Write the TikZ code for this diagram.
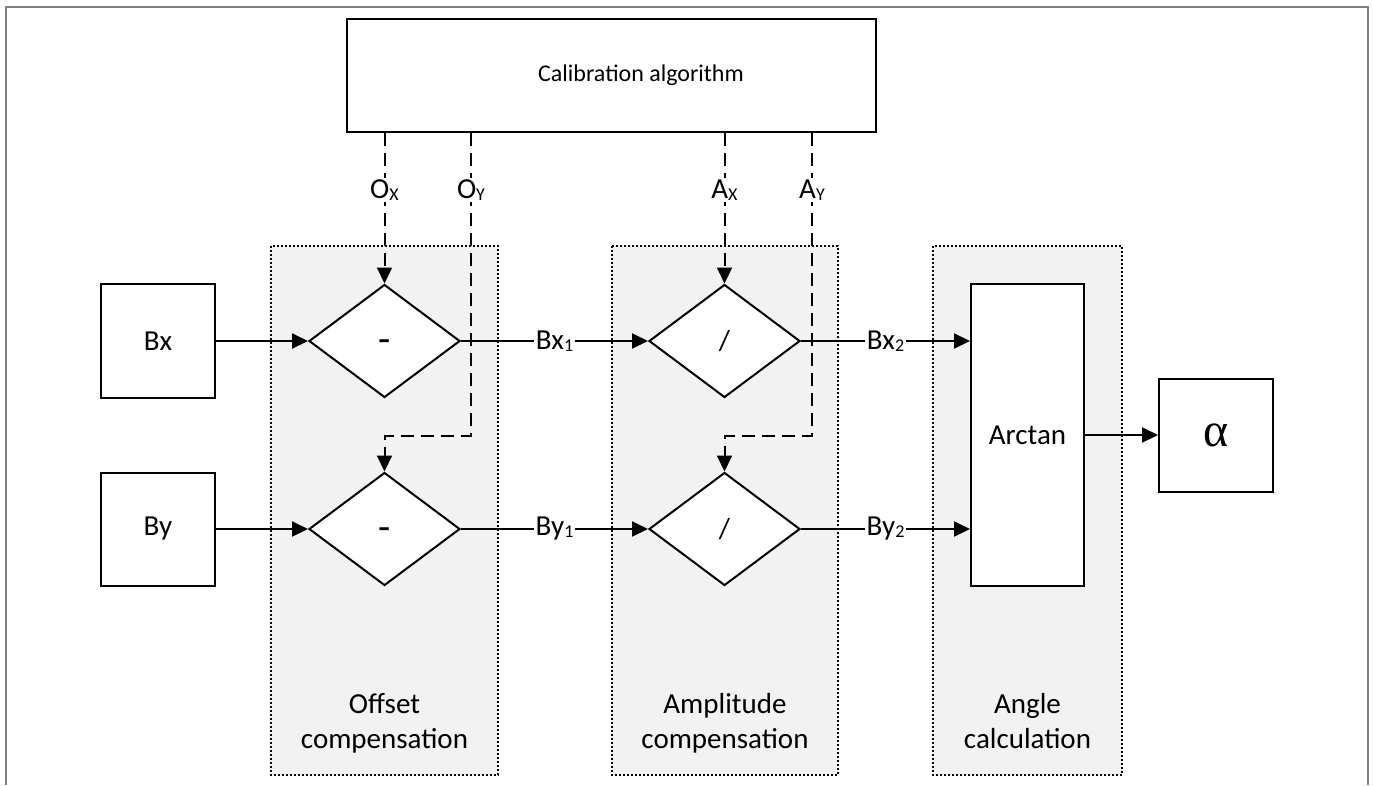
\documentclass[tikz,border=0pt]{standalone}
\usepackage{fontspec}
\setmainfont{Carlito}
\newfontfamily\grk{Liberation Serif}
\usetikzlibrary{arrows.meta,shapes.geometric}
\definecolor{regiongray}{RGB}{242,242,242}
\definecolor{framegray}{RGB}{128,128,128}
\newcommand\sbs[1]{\raisebox{-1.5pt}{\fontsize{18}{18}\selectfont #1}}
\newcommand\opminus{{\fontsize{40}{40}\selectfont\raisebox{-11pt}[0pt][0pt]{-}}}
\tikzset{
  txt/.style={font=\fontsize{29}{35}\selectfont},
  blockbox/.style={draw, line width=2pt, fill=white, inner sep=0pt, txt},
  diam/.style={diamond, draw, line width=2pt, fill=white, inner sep=0pt,
    minimum width=151pt, minimum height=113pt, txt},
  region/.style={fill=regiongray, draw=black, line width=1.6pt, dash pattern=on 2pt off 2pt},
  flow/.style={line width=2pt, -{Triangle[length=16pt,width=15pt]}},
  ctrl/.style={flow, dash pattern=on 13pt off 7pt},
  lbl/.style={fill=white, inner sep=1.5pt, txt},
  regionlbl/.style={align=center, anchor=north, txt},
}
\begin{document}
\begin{tikzpicture}[x=1pt,y=-1pt]
\useasboundingbox (0,0) rectangle (1373,785);
% frame
\draw[framegray, line width=2pt] (5.5,785) -- (5.5,6.5) -- (1367.5,6.5) -- (1367.5,785);
% regions
\draw[region] (271,246) rectangle (498,775);
\draw[region] (612,246) rectangle (838,775);
\draw[region] (933,246) rectangle (1122,775);
\node[regionlbl] (roff) at (384.5,690) {Offset\\compensation};
\node[regionlbl] (ramp) at (725,690) {Amplitude\\compensation};
\node[regionlbl] (rang) at (1027.5,690) {Angle\\calculation};
% blocks
\node[blockbox, minimum width=529pt, minimum height=113pt] (cal) at (611.5,75.5) {};
\node[txt, font=\fontsize{24}{29}\selectfont] (caltxt) at (641,75.5) {Calibration algorithm};
\node[blockbox, minimum width=114pt, minimum height=114pt] (bx) at (158,341) {Bx};
\node[blockbox, minimum width=114pt, minimum height=113pt] (by) at (158,529) {By};
\node[diam] (d1) at (384.5,341) {\opminus};
\node[diam] (d3) at (384.5,529) {\opminus};
\node[diam] (d2) at (724.5,341) {/};
\node[diam] (d4) at (724.5,529) {/};
\node[blockbox, minimum width=113pt, minimum height=302pt] (atan) at (1027.5,435) {Arctan};
\node[blockbox, minimum width=114pt, minimum height=113pt, font=\grk\fontsize{48}{48}\selectfont] (alpha) at (1216,435) {α};
% coordinates for control lines
\coordinate (oyc) at (471,436);
\coordinate (ayc) at (812,436);
% control lines
\draw[ctrl] (cal.south -| d1.north) -- (d1.north);
\draw[ctrl] (cal.south -| oyc) -- (oyc) -| (d3.north);
\draw[ctrl] (cal.south -| d2.north) -- (d2.north);
\draw[ctrl] (cal.south -| ayc) -- (ayc) -| (d4.north);
% labels of control lines
\node[lbl] (lox) at (384.5,190) {O\sbs{X}};
\node[lbl] (loy) at (471,190) {O\sbs{Y}};
\node[lbl] (lax) at (724.5,190) {A\sbs{X}};
\node[lbl] (lay) at (812,190) {A\sbs{Y}};
% data flow
\draw[flow] (bx.east) -- (d1.west);
\draw[flow] (by.east) -- (d3.west);
\draw[flow] (d1.east) -- node[lbl] (lbx1) {Bx\sbs{1}} (d2.west);
\draw[flow] (d3.east) -- node[lbl] (lby1) {By\sbs{1}} (d4.west);
\draw[flow] (d2.east) -- node[lbl] (lbx2) {Bx\sbs{2}} (d2.east -| atan.west);
\draw[flow] (d4.east) -- node[lbl] (lby2) {By\sbs{2}} (d4.east -| atan.west);
\draw[flow] (atan.east) -- (alpha.west);
\end{tikzpicture}
\end{document}
